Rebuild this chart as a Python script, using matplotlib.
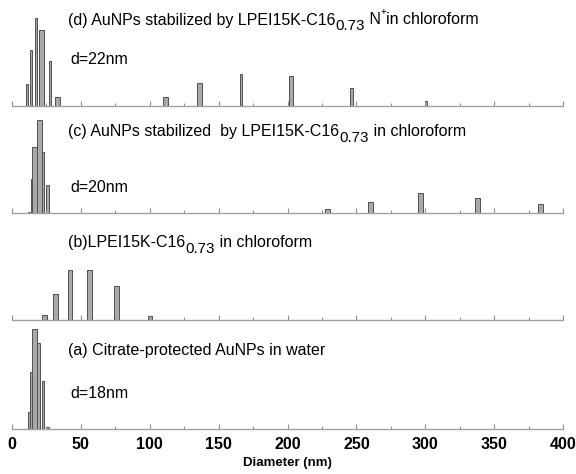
import matplotlib.pyplot as plt
from matplotlib.ticker import MultipleLocator
from matplotlib.transforms import offset_copy

# panel (d): AuNPs + LPEI15K-C16 N+ in chloroform
d_x = [10.7, 13.8, 17.4, 21.6, 27.6, 33.2, 111.6, 136.3, 166.4, 202.5, 246.3, 300.8]
d_y = [22, 56, 88, 76, 45, 9, 9.3, 22.7, 32, 30, 18.3, 5]
# panel (c): AuNPs + LPEI15K-C16 in chloroform
c_x = [12.5, 14.2, 16.3, 19.7, 22.5, 25.8, 229.3, 260.6, 296.7, 337.6, 383.4]
c_y = [1, 34, 66, 93, 61, 28, 4, 11, 20, 15, 8.7]
# panel (b): LPEI15K-C16 in chloroform
b_x = [23.4, 31.7, 42.1, 56.0, 75.7, 100.2]
b_y = [5, 25.7, 50, 50, 34, 3.3]
# panel (a): citrate-protected AuNPs in water
a_x = [12.5, 13.9, 16.3, 19.1, 22.5, 25.8]
a_y = [16.7, 57, 100, 86, 48, 2]

# titles as (text, vertical shift in points) pieces
titles = [
    [("(d) AuNPs stabilized by LPEI15K-C16", 0), ("0.73", -4), (" N", 0), ("+", 6), ("in chloroform", 0)],
    [("(c) AuNPs stabilized  by LPEI15K-C16", 0), ("0.73", -4), (" in chloroform", 0)],
    [("(b)LPEI15K-C16", 0), ("0.73", -4), (" in chloroform", 0)],
    [("(a) Citrate-protected AuNPs in water", 0)],
]
sizes = ["d=22nm", "d=20nm", None, "d=18nm"]

# bar widths (x units)
d_w = [1.5, 1.5, 1.5, 3.6, 1.8, 3.4, 3.6, 3.4, 1.7, 2.4, 2.0, 1.5]
c_w = [1.2, 1.2, 3.2, 3.6, 1.9, 2.2, 3.6, 3.6, 3.6, 3.6, 3.6]
b_w = [3.6, 3.4, 2.4, 3.6, 3.4, 3.4]
a_w = [1.7, 1.7, 3.2, 2.4, 1.9, 2.2]

plt.rcParams['font.family'] = ['Liberation Sans', 'DejaVu Sans']

W, H = 576, 474
fig = plt.figure(figsize=(W / 100, H / 100), dpi=100)
renderer = fig.canvas.get_renderer()


def piece_text(x, y, pieces, fs):
    # draw text pieces one after another, each shifted up/down
    dx = 0.0
    for txt, dy in pieces:
        size = fs if dy == 0 else (fs * 0.95 if dy < 0 else fs * 0.6)
        tr = offset_copy(fig.transFigure, fig=fig, x=dx, y=dy, units='points')
        t = fig.text(x, y, txt, fontsize=size, va='center', ha='left', transform=tr)
        ext = t.get_window_extent(renderer=renderer)
        dx += ext.width * 72 / fig.dpi


panels = [(d_x, d_y, d_w), (c_x, c_y, c_w), (b_x, b_y, b_w), (a_x, a_y, a_w)]
baselines = [106, 212.5, 319.5, 428.5]
title_y = [20, 132, 243, 351]
size_y = [60, 188, None, 394]
left, right = 12, 563

for i, (xs, ys, ws) in enumerate(panels):
    base = baselines[i]
    ax = fig.add_axes([left / W, 1 - base / H, (right - left) / W, 106 / H])
    ax.patch.set_alpha(0)
    ax.bar(xs, ys, width=ws, color='#a9a9a9', edgecolor='#505050', linewidth=0.7)
    ax.set_xlim(0, 400)
    ax.set_ylim(0, 106)
    for s in ['top', 'right', 'left']:
        ax.spines[s].set_visible(False)
    ax.spines['bottom'].set_color('#a0a0a0')
    ax.spines['bottom'].set_linewidth(1.0)
    ax.set_yticks([])
    ax.xaxis.set_major_locator(MultipleLocator(50))
    ax.xaxis.set_minor_locator(MultipleLocator(25))
    ax.tick_params(axis='x', which='major', direction='in', length=3.5, color='#909090', width=0.8)
    ax.tick_params(axis='x', which='minor', direction='in', length=2, color='#909090', width=0.8)
    if i < 3:
        ax.tick_params(axis='x', labelbottom=False)
    else:
        ax.tick_params(axis='x', labelsize=11.5, pad=6)
        for lbl in ax.get_xticklabels():
            lbl.set_fontweight('bold')
        ax.set_xlabel("Diameter (nm)", fontsize=9.5, fontweight='bold', labelpad=4)

    piece_text(68 / W, 1 - title_y[i] / H, titles[i], 11.5)
    if sizes[i]:
        fig.text(70 / W, 1 - size_y[i] / H, sizes[i], fontsize=11.5, va='center', ha='left')

fig.savefig("out.png", dpi=100)
